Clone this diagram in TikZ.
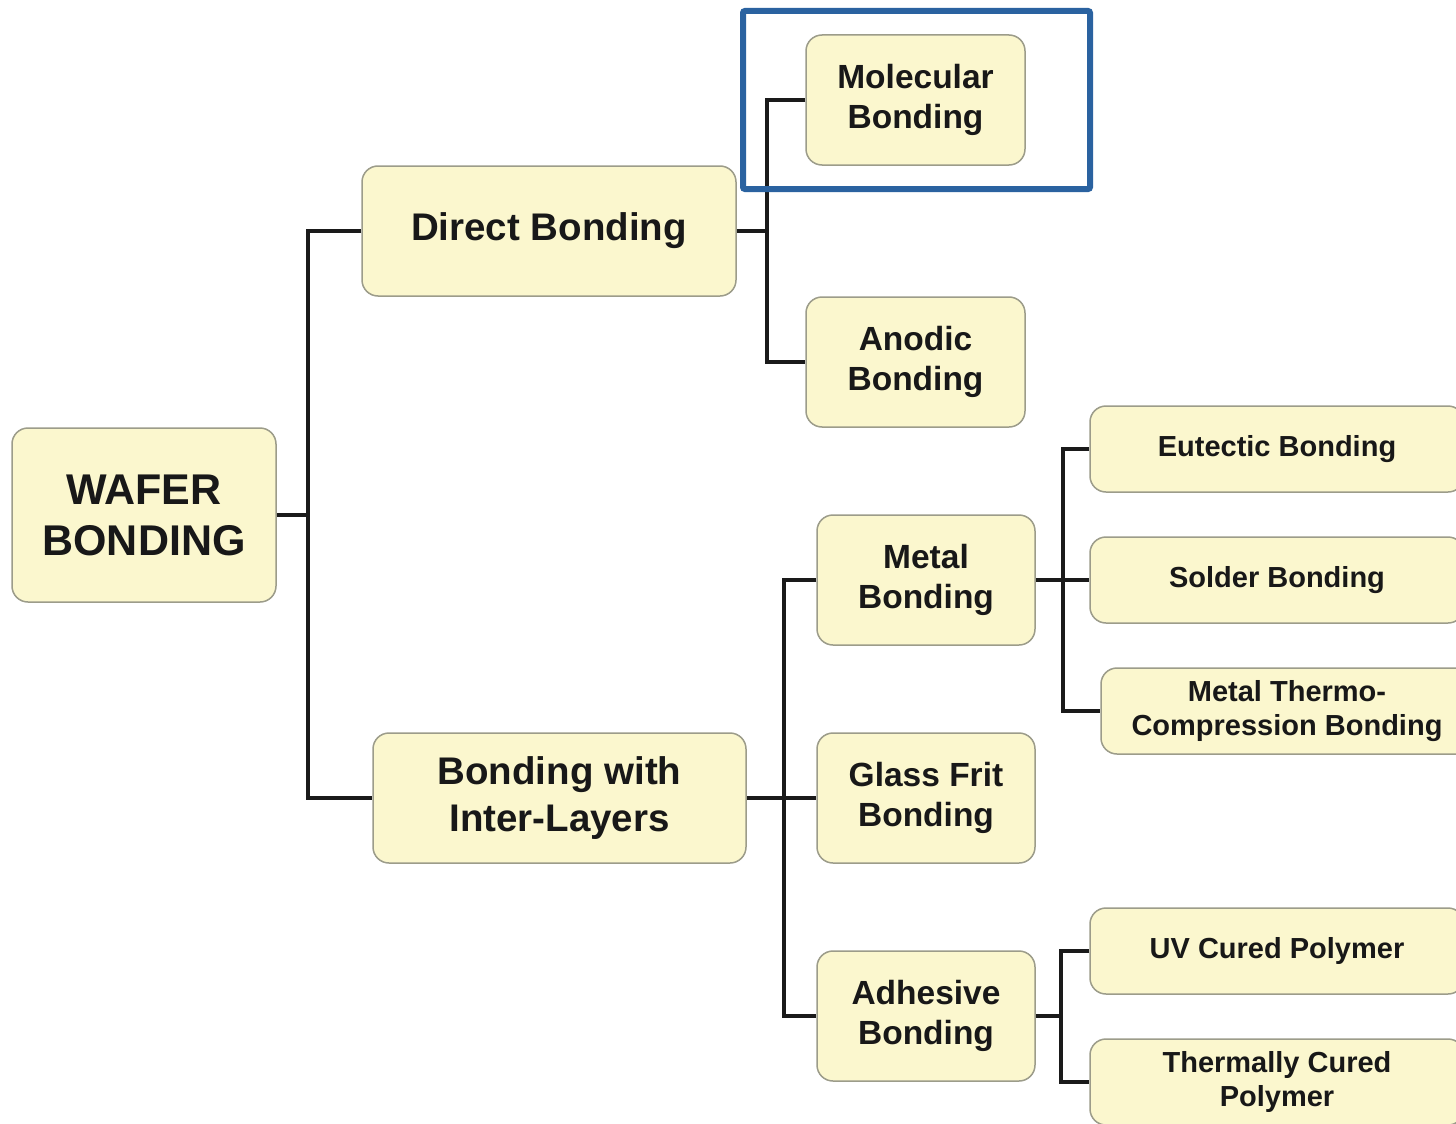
\documentclass[tikz,border=0pt]{standalone}
\usepackage{fontspec}
\setmainfont{Liberation Sans}
\definecolor{boxfill}{HTML}{FBF7CE}
\definecolor{boxline}{HTML}{9C9C8A}
\definecolor{conn}{HTML}{1A1A1A}
\definecolor{txt}{HTML}{181818}
\definecolor{hlblue}{HTML}{2A62A0}
\tikzset{
  bx/.style={rectangle, rounded corners=16pt, fill=boxfill, draw=boxline, line width=1.5pt,
    align=center, inner sep=0pt, text=txt},
  lvA/.style={bx, font={\bfseries\fontsize{43}{51}\selectfont}},
  lvB/.style={bx, font={\bfseries\fontsize{38.5}{47}\selectfont}, minimum height=130pt},
  lvC/.style={bx, font={\bfseries\fontsize{33.5}{40}\selectfont}, minimum width=218pt, minimum height=130pt},
  lvD/.style={bx, font={\bfseries\fontsize{29}{34}\selectfont}, minimum width=374pt, minimum height=86pt},
  wire/.style={draw=conn, line width=4pt},
  highlight/.style={rectangle, draw=hlblue, line width=6pt, rounded corners=2pt, inner sep=0pt}
}
\begin{document}
\begin{tikzpicture}[x=1pt, y=-1pt]
\useasboundingbox (0,0) rectangle (1456,1124);
\fill[white] (0,0) rectangle (1456,1124);
\clip (0,0) rectangle (1456,1124);

% nodes
\node[lvA, minimum width=264pt, minimum height=174pt] (root) at (144,515) {WAFER\\BONDING};
\node[lvB, minimum width=374pt] (direct) at (549,231) {Direct Bonding};
\node[lvB, minimum width=373pt] (inter) at (559.5,798) {Bonding with\\Inter-Layers};
\node[lvC, minimum width=219pt] (mol) at (915.5,100) {Molecular\\Bonding};
\node[lvC, minimum width=219pt] (anod) at (915.5,362) {Anodic\\Bonding};
\node[lvC] (metal) at (926,580) {Metal\\Bonding};
\node[lvC] (glass) at (926,798) {Glass Frit\\Bonding};
\node[lvC] (adh) at (926,1016) {Adhesive\\Bonding};
\node[lvD] (eut) at (1277,449) {Eutectic Bonding};
\node[lvD] (sold) at (1277,580) {Solder Bonding};
\node[lvD, minimum width=372pt] (mtc) at (1287,711) {Metal Thermo-\\Compression Bonding};
\node[lvD] (uv) at (1277,951) {UV Cured Polymer};
\node[lvD] (therm) at (1277,1082) {Thermally Cured\\Polymer};

% junctions
\coordinate (j1) at (308,515);
\coordinate (j2) at (767,231);
\coordinate (j3) at (784,798);
\coordinate (j4) at (1063,580);
\coordinate (j5) at (1061,1016);

% connectors
\begin{scope}[on background layer/.style={}]
\draw[wire] (root.east) -- (j1);
\draw[wire] (direct.west) -| (j1) |- (inter.west);
\draw[wire] (direct.east) -- (j2);
\draw[wire] (mol.west) -| (j2) |- (anod.west);
\draw[wire] (inter.east) -- (glass.west);
\draw[wire] (metal.west) -| (j3) |- (adh.west);
\draw[wire] (metal.east) -- (sold.west);
\draw[wire] (eut.west) -| (j4) |- (mtc.west);
\draw[wire] (adh.east) -- (j5);
\draw[wire] (uv.west) -| (j5) |- (therm.west);
\end{scope}

% highlight frame
\node[highlight, minimum width=347pt, minimum height=178pt] (hl) at (916.5,100) {};
\end{tikzpicture}
\end{document}
